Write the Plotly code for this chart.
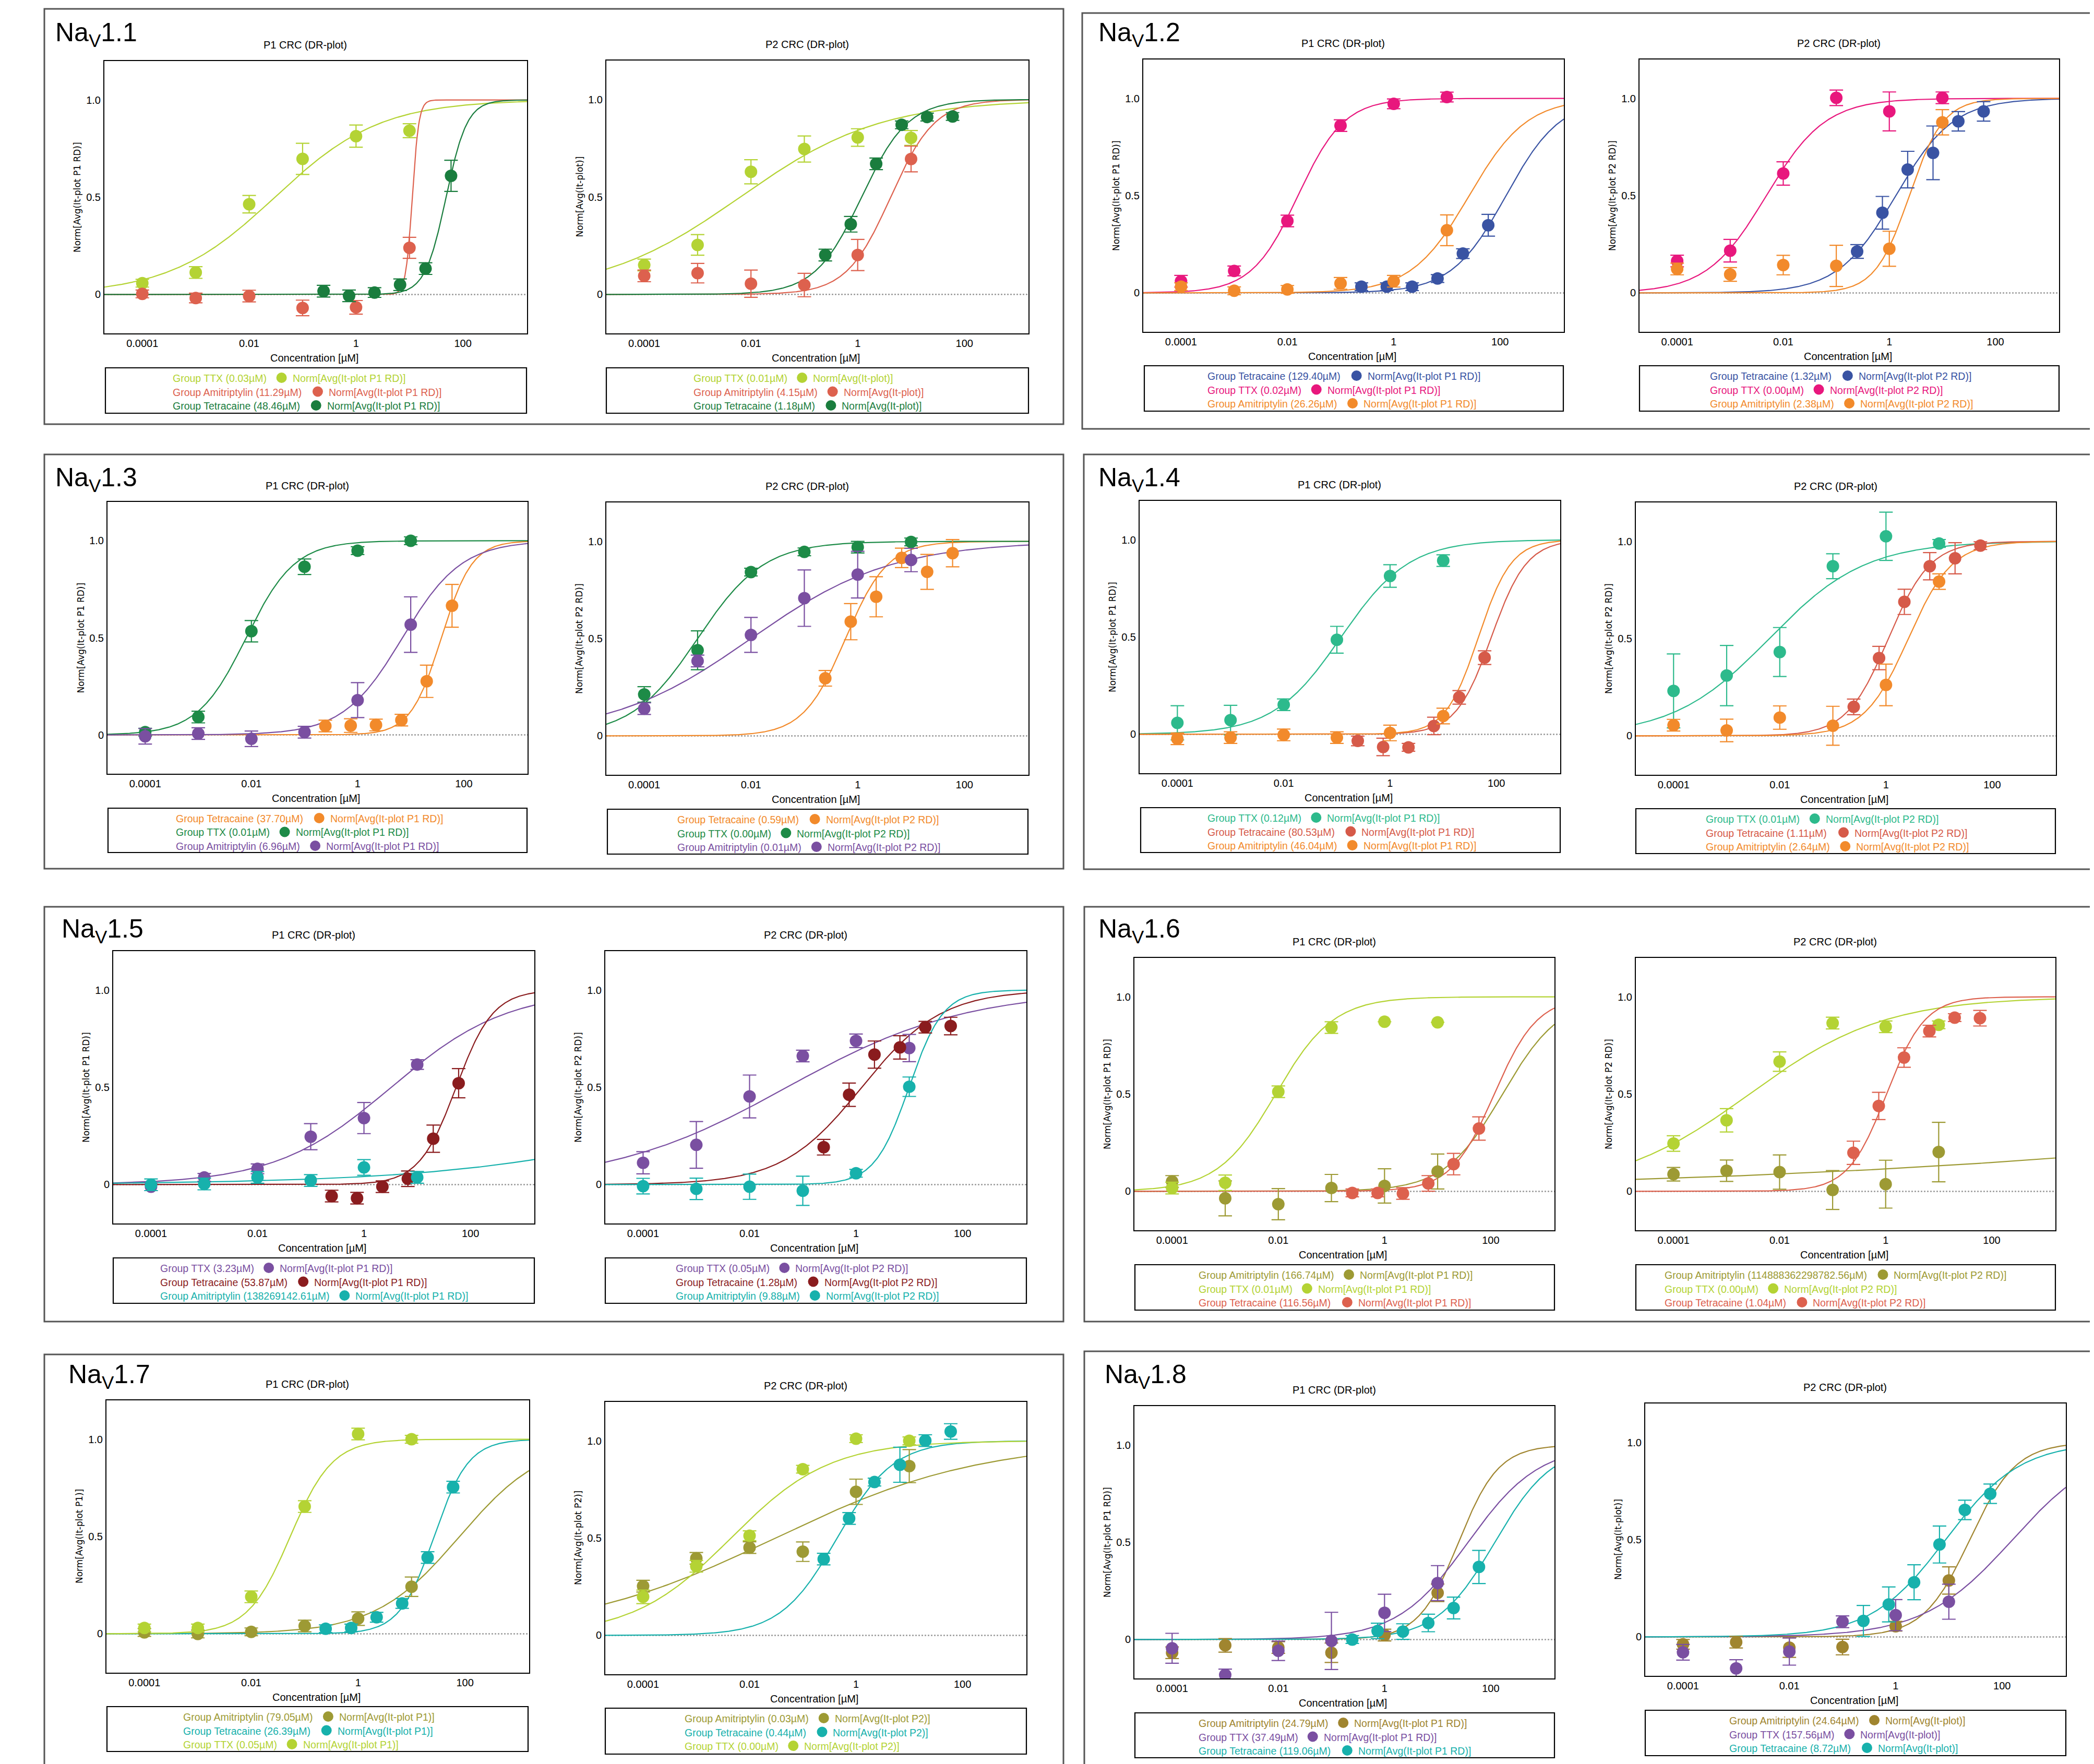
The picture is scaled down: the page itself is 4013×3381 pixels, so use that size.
import numpy as np
import plotly.graph_objects as go

W, H = 4013, 3381

# ---------------- data ----------------
C_DEC = [1e-4, 1e-3, 1e-2, 1e-1, 1, 10]          # µM
C_TET = [0.247, 0.741, 2.22, 6.67, 20, 60]       # µM

PANEL_NAMES = ["1.1", "1.2", "1.3", "1.4", "1.5", "1.6", "1.7", "1.8"]
SUBPLOT_TITLES = ["P1 CRC (DR-plot)", "P2 CRC (DR-plot)"]
X_TITLE = "Concentration [µM]"
X_TICKVALS = [1e-4, 1e-2, 1, 100]
X_TICKTEXT = ["0.0001", "0.01", "1", "100"]
Y_TICKVALS = [0, 0.5, 1.0]
Y_TICKTEXT = ["0", "0.5", "1.0"]

N_P1RD = "Norm[Avg(It-plot P1 RD)]"
N_P2RD = "Norm[Avg(It-plot P2 RD)]"
N_PLOT = "Norm[Avg(It-plot)]"
N_P1 = "Norm[Avg(It-plot P1)]"
N_P2 = "Norm[Avg(It-plot P2)]"

# y-axis title / legend suffix for the 16 subplots
NORM_LABELS = [N_P1RD, N_PLOT, N_P1RD, N_P2RD, N_P1RD, N_P2RD, N_P1RD, N_P2RD,
               N_P1RD, N_P2RD, N_P1RD, N_P2RD, N_P1, N_P2, N_P1RD, N_PLOT]

# series: (legend label, concentrations, mean, error, log10 IC50 of fit, Hill slope of fit)
NAV11_P1 = [
    ("Group TTX (0.03µM)", C_DEC, [0.058, 0.113, 0.464, 0.697, 0.814, 0.842], [0.02, 0.03, 0.045, 0.08, 0.057, 0.036], -1.52, 0.44),
    ("Group Amitriptylin (11.29µM)", C_DEC, [0.003, -0.018, -0.008, -0.069, -0.066, 0.24], [0.02, 0.025, 0.03, 0.04, 0.035, 0.054], 1.053, 7.0),
    ("Group Tetracaine (48.46µM)", C_TET, [0.017, -0.007, 0.01, 0.05, 0.133, 0.61], [0.03, 0.03, 0.025, 0.03, 0.03, 0.08], 1.685, 2.2),
]
NAV11_P2 = [
    ("Group TTX (0.01µM)", C_DEC, [0.151, 0.254, 0.629, 0.746, 0.805, 0.803], [0.03, 0.053, 0.062, 0.067, 0.045, 0.038], -2.2, 0.33),
    ("Group Amitriptylin (4.15µM)", C_DEC, [0.095, 0.109, 0.055, 0.048, 0.202, 0.695], [0.03, 0.05, 0.07, 0.06, 0.08, 0.066], 0.618, 1.05),
    ("Group Tetracaine (1.18µM)", C_TET, [0.202, 0.36, 0.67, 0.87, 0.91, 0.913], [0.03, 0.04, 0.03, 0.02, 0.02, 0.02], 0.072, 1.0),
]
NAV12_P1 = [
    ("Group Tetracaine (129.40µM)", C_TET, [0.032, 0.032, 0.032, 0.074, 0.202, 0.348], [0.02, 0.02, 0.02, 0.02, 0.025, 0.056], 2.112, 0.85),
    ("Group TTX (0.02µM)", C_DEC, [0.06, 0.113, 0.37, 0.86, 0.972, 1.007], [0.03, 0.025, 0.03, 0.03, 0.025, 0.025], -1.8, 1.0),
    ("Group Amitriptylin (26.26µM)", C_DEC, [0.032, 0.011, 0.018, 0.049, 0.06, 0.322], [0.02, 0.02, 0.02, 0.03, 0.03, 0.079], 1.419, 0.8),
]
NAV12_P2 = [
    ("Group Tetracaine (1.32µM)", C_TET, [0.213, 0.412, 0.634, 0.72, 0.882, 0.933], [0.035, 0.084, 0.094, 0.138, 0.05, 0.05], 0.12, 0.8),
    ("Group TTX (0.00µM)", C_DEC, [0.164, 0.217, 0.614, 1.003, 0.933, 1.003], [0.03, 0.058, 0.06, 0.04, 0.1, 0.03], -2.32, 0.78),
    ("Group Amitriptylin (2.38µM)", C_DEC, [0.123, 0.095, 0.143, 0.139, 0.227, 0.877], [0.03, 0.035, 0.05, 0.106, 0.09, 0.065], 0.377, 1.35),
]
NAV13_P1 = [
    ("Group Tetracaine (37.70µM)", C_TET, [0.046, 0.048, 0.051, 0.076, 0.276, 0.665], [0.03, 0.035, 0.03, 0.03, 0.083, 0.11], 1.576, 1.5),
    ("Group TTX (0.01µM)", C_DEC, [0.014, 0.092, 0.534, 0.866, 0.949, 1.0], [0.02, 0.03, 0.055, 0.04, 0.02, 0.02], -2.1, 0.95),
    ("Group Amitriptylin (6.96µM)", C_DEC, [-0.007, 0.007, -0.02, 0.014, 0.179, 0.568], [0.04, 0.03, 0.04, 0.03, 0.09, 0.143], 0.843, 0.78),
]
NAV13_P2 = [
    ("Group Tetracaine (0.59µM)", C_TET, [0.296, 0.587, 0.715, 0.915, 0.843, 0.939], [0.04, 0.093, 0.103, 0.05, 0.09, 0.07], -0.229, 1.1),
    ("Group TTX (0.00µM)", C_DEC, [0.213, 0.44, 0.842, 0.946, 0.97, 0.997], [0.04, 0.1, 0.02, 0.02, 0.03, 0.02], -3.0, 0.7),
    ("Group Amitriptylin (0.01µM)", C_DEC, [0.14, 0.385, 0.519, 0.708, 0.829, 0.904], [0.03, 0.03, 0.09, 0.145, 0.12, 0.06], -2.0, 0.33),
]
NAV14_P1 = [
    ("Group TTX (0.12µM)", C_DEC, [0.059, 0.073, 0.152, 0.486, 0.814, 0.893], [0.088, 0.076, 0.03, 0.069, 0.058, 0.03], -0.92, 0.68),
    ("Group Tetracaine (80.53µM)", C_TET, [-0.034, -0.065, -0.067, 0.043, 0.19, 0.394], [0.025, 0.045, 0.02, 0.045, 0.035, 0.035], 1.906, 1.3),
    ("Group Amitriptylin (46.04µM)", C_DEC, [-0.023, -0.017, -0.003, -0.017, 0.007, 0.094], [0.03, 0.03, 0.03, 0.03, 0.04, 0.04], 1.663, 1.4),
]
NAV14_P2 = [
    ("Group TTX (0.01µM)", C_DEC, [0.231, 0.31, 0.431, 0.872, 1.026, 0.989], [0.19, 0.155, 0.126, 0.064, 0.124, 0.02], -2.2, 0.48),
    ("Group Tetracaine (1.11µM)", C_TET, [0.149, 0.40, 0.689, 0.872, 0.913, 0.978], [0.04, 0.06, 0.065, 0.07, 0.08, 0.02], 0.045, 1.1),
    ("Group Amitriptylin (2.64µM)", C_DEC, [0.055, 0.028, 0.094, 0.052, 0.262, 0.793], [0.03, 0.058, 0.06, 0.1, 0.107, 0.04], 0.42, 1.05),
]
NAV15_P1 = [
    ("Group TTX (3.23µM)", C_DEC, [-0.011, 0.037, 0.081, 0.246, 0.342, 0.617], [0.02, 0.02, 0.025, 0.067, 0.08, 0.025], 0.509, 0.4),
    ("Group Tetracaine (53.87µM)", C_TET, [-0.059, -0.07, -0.011, 0.03, 0.236, 0.521], [0.03, 0.03, 0.03, 0.04, 0.07, 0.075], 1.731, 1.25),
    ("Group Amitriptylin (138269142.61µM)", C_DEC, [-0.001, 0.003, 0.037, 0.021, 0.088, 0.037], [0.03, 0.03, 0.03, 0.03, 0.04, 0.03], 8.14, 0.168),
]
NAV15_P2 = [
    ("Group TTX (0.05µM)", C_DEC, [0.112, 0.204, 0.453, 0.661, 0.739, 0.702], [0.057, 0.12, 0.11, 0.03, 0.035, 0.07], -1.3, 0.26),
    ("Group Tetracaine (1.28µM)", C_TET, [0.192, 0.462, 0.668, 0.705, 0.809, 0.815], [0.04, 0.06, 0.07, 0.06, 0.03, 0.045], 0.107, 0.58),
    ("Group Amitriptylin (9.88µM)", C_DEC, [-0.008, -0.022, -0.011, -0.032, 0.058, 0.503], [0.04, 0.055, 0.065, 0.075, 0.02, 0.05], 0.995, 1.35),
]
NAV16_P1 = [
    ("Group Amitriptylin (166.74µM)", C_DEC, [0.051, -0.036, -0.066, 0.017, 0.028, 0.102], [0.03, 0.09, 0.08, 0.07, 0.088, 0.09], 2.222, 0.8),
    ("Group TTX (0.01µM)", C_DEC, [0.017, 0.044, 0.512, 0.842, 0.872, 0.869], [0.03, 0.04, 0.03, 0.03, 0.0, 0.0], -2.05, 0.8),
    ("Group Tetracaine (116.56µM)", C_TET, [-0.008, -0.008, -0.011, 0.041, 0.14, 0.323], [0.02, 0.02, 0.03, 0.04, 0.055, 0.06], 2.067, 1.07),
]
NAV16_P2 = [
    ("Group Amitriptylin (114888362298782.56µM)", C_DEC, [0.088, 0.106, 0.099, 0.007, 0.037, 0.202], [0.035, 0.055, 0.088, 0.1, 0.123, 0.153], 14.06, 0.063),
    ("Group TTX (0.00µM)", C_DEC, [0.246, 0.365, 0.667, 0.865, 0.846, 0.856], [0.04, 0.06, 0.05, 0.03, 0.03, 0.02], -2.57, 0.34),
    ("Group Tetracaine (1.04µM)", C_TET, [0.198, 0.439, 0.688, 0.824, 0.893, 0.89], [0.06, 0.07, 0.05, 0.03, 0.02, 0.04], 0.017, 1.2),
]
NAV17_P1 = [
    ("Group Amitriptylin (79.05µM)", C_DEC, [0.007, -0.001, 0.01, 0.04, 0.078, 0.242], [0.02, 0.02, 0.02, 0.03, 0.035, 0.05], 1.898, 0.55),
    ("Group Tetracaine (26.39µM)", C_TET, [0.026, 0.03, 0.085, 0.156, 0.392, 0.754], [0.02, 0.02, 0.025, 0.025, 0.03, 0.03], 1.421, 1.35),
    ("Group TTX (0.05µM)", C_DEC, [0.03, 0.03, 0.19, 0.654, 1.027, 1.0], [0.02, 0.02, 0.03, 0.03, 0.03, 0.02], -1.27, 1.1),
]
NAV17_P2 = [
    ("Group Amitriptylin (0.03µM)", C_DEC, [0.253, 0.396, 0.451, 0.43, 0.738, 0.87], [0.03, 0.03, 0.03, 0.05, 0.065, 0.085], -1.52, 0.225),
    ("Group Tetracaine (0.44µM)", C_TET, [0.392, 0.601, 0.788, 0.877, 1.001, 1.048], [0.03, 0.03, 0.02, 0.09, 0.03, 0.04], -0.357, 0.82),
    ("Group TTX (0.00µM)", C_DEC, [0.198, 0.355, 0.512, 0.854, 1.011, 1.0], [0.035, 0.03, 0.025, 0.02, 0.02, 0.02], -2.35, 0.47),
]
NAV18_P1 = [
    ("Group Amitriptylin (24.79µM)", C_DEC, [-0.068, -0.03, -0.041, -0.068, 0.023, 0.24], [0.03, 0.035, 0.03, 0.05, 0.03, 0.045], 1.394, 1.15),
    ("Group TTX (37.49µM)", C_DEC, [-0.045, -0.182, -0.058, -0.007, 0.137, 0.29], [0.077, 0.03, 0.05, 0.147, 0.096, 0.09], 1.574, 0.65),
    ("Group Tetracaine (119.06µM)", C_TET, [0.0, 0.044, 0.041, 0.085, 0.162, 0.373], [0.02, 0.04, 0.04, 0.045, 0.056, 0.085], 2.076, 0.8),
]
NAV18_P2 = [
    ("Group Amitriptylin (24.64µM)", C_DEC, [-0.038, -0.027, -0.055, -0.052, 0.055, 0.29], [0.025, 0.03, 0.05, 0.04, 0.025, 0.07], 1.392, 1.0),
    ("Group TTX (157.56µM)", C_DEC, [-0.079, -0.162, -0.075, 0.078, 0.112, 0.181], [0.04, 0.045, 0.07, 0.03, 0.08, 0.09], 2.197, 0.52),
    ("Group Tetracaine (8.72µM)", C_TET, [0.082, 0.167, 0.281, 0.475, 0.653, 0.736], [0.08, 0.09, 0.09, 0.095, 0.05, 0.05], 0.94, 0.62),
]

SUBPLOTS = [NAV11_P1, NAV11_P2, NAV12_P1, NAV12_P2, NAV13_P1, NAV13_P2, NAV14_P1, NAV14_P2,
            NAV15_P1, NAV15_P2, NAV16_P1, NAV16_P2, NAV17_P1, NAV17_P2, NAV18_P1, NAV18_P2]

# ---------------- styles ----------------
YG, RED, DGREEN = "#b4d334", "#dd614e", "#1a7d3e"
BLUE, PINK, ORANGE = "#3953a3", "#e8177d", "#f28a2b"
GREEN3, PURPLE = "#1d8b47", "#7a4fa1"
TEAL4, RED4 = "#2dba8c", "#d65a49"
DRED, TEAL = "#8a1c1e", "#17b1ac"
OLIVE, GOLD = "#9d9a34", "#a0852f"

COLORS = [
    [YG, RED, DGREEN], [YG, RED, DGREEN],
    [BLUE, PINK, ORANGE], [BLUE, PINK, ORANGE],
    [ORANGE, GREEN3, PURPLE], [ORANGE, GREEN3, PURPLE],
    [TEAL4, RED4, ORANGE], [TEAL4, RED4, ORANGE],
    [PURPLE, DRED, TEAL], [PURPLE, DRED, TEAL],
    [OLIVE, YG, RED], [OLIVE, YG, RED],
    [OLIVE, TEAL, YG], [OLIVE, TEAL, YG],
    [GOLD, PURPLE, TEAL], [GOLD, PURPLE, TEAL],
]

# ---------------- geometry (pixels) ----------------
PANEL_FRAMES = [(77, 9, 2030, 805), (2066, 17, 4030, 814), (77, 863, 2030, 1657), (2069, 863, 4030, 1658),
                (77, 1730, 2030, 2525), (2070, 1730, 4030, 2525), (77, 2588, 2030, 3392), (2070, 2582, 4030, 3392)]
PANEL_TITLE_POS = [(96, 58), (2095, 58), (96, 910), (2095, 910), (108, 1775), (2095, 1775), (121, 2629), (2107, 2629)]

PLOT_BOXES = [
    (192, 109, 1002, 631), (1154, 108, 1963, 631),
    (2183, 106, 2989, 628), (3134, 106, 3938, 628),
    (198, 954, 1003, 1475), (1154, 955, 1963, 1477),
    (2176, 952, 2982, 1474), (3127, 955, 3932, 1477),
    (209, 1815, 1016, 2337), (1152, 1815, 1959, 2337),
    (2166, 1828, 2971, 2350), (3127, 1828, 3931, 2350),
    (196, 2676, 1006, 3198), (1152, 2679, 1959, 3201),
    (2166, 2687, 2971, 3209), (3145, 2682, 3951, 3204),
]
LEGEND_BOXES = [
    (194, 697, 1001, 784), (1154, 697, 1963, 784),
    (2185, 693, 2988, 780), (3134, 693, 3938, 780),
    (199, 1541, 1002, 1626), (1156, 1543, 1962, 1629),
    (2178, 1540, 2982, 1626), (3127, 1542, 3931, 1628),
    (209, 2403, 1016, 2490), (1152, 2403, 1959, 2490),
    (2167, 2416, 2971, 2503), (3127, 2416, 3931, 2503),
    (197, 3263, 1004, 3349), (1152, 3266, 1959, 3354),
    (2167, 3275, 2971, 3361), (3145, 3270, 3951, 3357),
]
LEGEND_START = [0.159, 0.205, 0.150, 0.167, 0.161, 0.165, 0.158, 0.166,
                0.110, 0.166, 0.150, 0.067, 0.18, 0.187, 0.150, 0.199]
LEGEND_ROW_OFFSETS = [20, 46.5, 73]
LEG_FS = 19.5

X_RANGE = [-4.71, 3.2]
Y_RANGE = [-0.2, 1.2]
FONT = "Liberation Sans, Arial, Helvetica, sans-serif"
YTFONT = "DejaVu Sans, Verdana, sans-serif"

# Arial / Liberation Sans advance widths (1/1000 em), used to place legend symbols
ADV = {' ': 278, '(': 333, ')': 333, '.': 278, '-': 333, '[': 278, ']': 278, 'µ': 576,
       'A': 667, 'D': 722, 'G': 778, 'I': 278, 'M': 833, 'N': 722, 'P': 667, 'R': 722,
       'T': 611, 'X': 667, 'a': 556, 'c': 500, 'e': 556, 'g': 556, 'i': 222, 'l': 222,
       'm': 833, 'n': 556, 'o': 556, 'p': 556, 'r': 333, 't': 278, 'u': 556, 'v': 500, 'y': 500}


def text_width(s, size):
    return sum(ADV.get(ch, 556) for ch in s) * size / 1000.0


def px(x):
    return x / W


def py(y):
    return 1 - y / H


def hill(conc, log_ic50, slope):
    return 1.0 / (1.0 + 10 ** (slope * (log_ic50 - np.log10(conc))))


fig = go.Figure()
layout = dict(width=W, height=H, margin=dict(l=0, r=0, t=0, b=0), autosize=False,
              paper_bgcolor="white", plot_bgcolor="white", showlegend=False,
              font=dict(family=FONT, size=20, color="black"))
annotations, shapes = [], []
xgrid = np.logspace(X_RANGE[0], X_RANGE[1], 500)

for k, series in enumerate(SUBPLOTS):
    ax = "" if k == 0 else str(k + 1)
    l, t, r, b = PLOT_BOXES[k]
    layout[f"xaxis{ax}"] = dict(
        type="log", domain=[px(l), px(r)], anchor=f"y{ax}", range=X_RANGE,
        showgrid=False, zeroline=False, showline=True, mirror=True, linecolor="black", linewidth=2,
        ticks="", tickvals=X_TICKVALS, ticktext=X_TICKTEXT, tickfont=dict(size=20, family=FONT),
        ticklabelstandoff=0, fixedrange=True)
    layout[f"yaxis{ax}"] = dict(
        domain=[py(b), py(t)], anchor=f"x{ax}", range=Y_RANGE,
        showgrid=False, zeroline=False, showline=True, mirror=True, linecolor="black", linewidth=2,
        ticks="", tickvals=Y_TICKVALS, ticktext=Y_TICKTEXT, tickfont=dict(size=20, family=FONT),
        ticklabelstandoff=1, fixedrange=True)

    # zero reference line
    shapes.append(dict(type="line", xref=f"x{ax} domain", yref=f"y{ax}", x0=0, x1=1, y0=0, y1=0,
                       line=dict(color="#9a9a9a", width=2.5, dash="dot"), layer="below"))

    cols = COLORS[k]
    for (label, conc, mean, err, lic, hs), c in zip(series, cols):
        fig.add_trace(go.Scatter(x=xgrid, y=hill(xgrid, lic, hs), mode="lines",
                                 line=dict(color=c, width=2.2), xaxis=f"x{ax}", yaxis=f"y{ax}",
                                 hoverinfo="skip"))
    for (label, conc, mean, err, lic, hs), c in zip(series, cols):
        fig.add_trace(go.Scatter(x=conc, y=mean, mode="markers",
                                 marker=dict(color=c, size=24, line=dict(width=0)),
                                 error_y=dict(type="data", array=err, visible=True, color=c,
                                              thickness=2.2, width=13),
                                 xaxis=f"x{ax}", yaxis=f"y{ax}", name=label))

    cx = (l + r) / 2
    cy = (t + b) / 2
    annotations.append(dict(text=SUBPLOT_TITLES[k % 2], x=px(cx - 20), y=py(t - 31), xref="paper", yref="paper",
                            showarrow=False, xanchor="center", yanchor="middle", font=dict(size=20, family=FONT)))
    annotations.append(dict(text=X_TITLE, x=px(cx - 3), y=py(b + 47), xref="paper", yref="paper",
                            showarrow=False, xanchor="center", yanchor="middle", font=dict(size=20, family=FONT)))
    annotations.append(dict(text=NORM_LABELS[k], x=px(l - 52), y=py(cy), xref="paper", yref="paper",
                            showarrow=False, xanchor="center", yanchor="middle", textangle=-90,
                            font=dict(size=17, family=YTFONT)))

    # legend box and rows: "Group ... (IC50)"  ●  "Norm[...]"
    ll, lt, lr, lb = LEGEND_BOXES[k]
    shapes.append(dict(type="rect", xref="paper", yref="paper", x0=px(ll), x1=px(lr), y0=py(lb), y1=py(lt),
                       line=dict(color="black", width=2.2), fillcolor="rgba(0,0,0,0)"))
    lx = ll + LEGEND_START[k] * (lr - ll)
    for i, ((label, *_rest), c) in enumerate(zip(series, cols)):
        ry = lt + LEGEND_ROW_OFFSETS[i]
        annotations.append(dict(text=label, x=px(lx), y=py(ry), xref="paper", yref="paper",
                                showarrow=False, xanchor="left", yanchor="middle", borderpad=0,
                                font=dict(size=LEG_FS, family=FONT, color=c)))
        mx = lx + text_width(label, LEG_FS) + 19 + 10
        shapes.append(dict(type="circle", xref="paper", yref="paper",
                           x0=px(mx - 10), x1=px(mx + 10), y0=py(ry + 9), y1=py(ry - 11),
                           fillcolor=c, line=dict(width=0)))
        annotations.append(dict(text=NORM_LABELS[k], x=px(mx + 20), y=py(ry), xref="paper", yref="paper",
                                showarrow=False, xanchor="left", yanchor="middle", borderpad=0,
                                font=dict(size=LEG_FS, family=FONT, color=c)))

for p, name in enumerate(PANEL_NAMES):
    x0, y0, x1, y1 = PANEL_FRAMES[p]
    shapes.append(dict(type="rect", xref="paper", yref="paper", x0=px(x0), x1=px(x1), y0=py(y1), y1=py(y0),
                       line=dict(color="#555555", width=3), fillcolor="rgba(0,0,0,0)", layer="below"))
    tx, ty = PANEL_TITLE_POS[p]
    annotations.append(dict(text=f"Na<sub>V</sub>{name}", x=px(tx), y=py(ty), xref="paper", yref="paper",
                            showarrow=False, xanchor="left", yanchor="middle",
                            font=dict(size=50, family=FONT, color="black")))

layout["annotations"] = annotations
layout["shapes"] = shapes
fig.update_layout(**layout)
fig.write_html("out.html")
